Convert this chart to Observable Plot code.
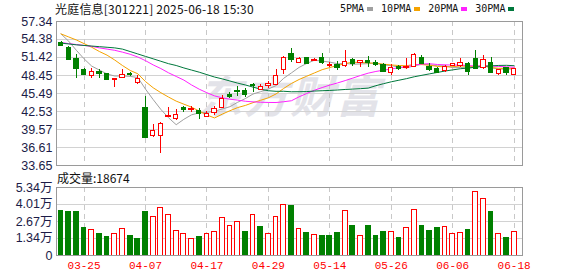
<!DOCTYPE html>
<html><head><meta charset="utf-8">
<script src="https://cdn.jsdelivr.net/npm/d3@7"></script>
<script src="https://cdn.jsdelivr.net/npm/@observablehq/plot@0.6"></script>
<style>
body{margin:0;background:#fff;}
#wrap{position:relative;width:578px;height:276px;overflow:hidden;background:#fff;}
.abs{position:absolute;white-space:nowrap;}
#wrap svg{position:absolute;left:0;}
</style></head><body><div id="wrap"></div>
<script>
// ---- data ----
const title = "光庭信息[301221] 2025-06-18 15:30";
const dates = ["03-20","03-21","03-24","03-25","03-26","03-27","03-28","03-31","04-01","04-02","04-03","04-07","04-08","04-09","04-10","04-11","04-14","04-15","04-16","04-17","04-18","04-21","04-22","04-23","04-24","04-25","04-28","04-29","04-30","05-06","05-07","05-08","05-09","05-12","05-13","05-14","05-15","05-16","05-19","05-20","05-21","05-22","05-23","05-26","05-27","05-28","05-29","05-30","06-03","06-04","06-05","06-06","06-09","06-10","06-11","06-12","06-13","06-16","06-17","06-18"];
const open  = [53.84,52.95,51.09,49.28,48.41,49.0,48.67,47.64,48.08,48.75,47.19,43.03,38.54,38.54,41.6,41.27,43.08,42.7,42.6,41.67,42.3,43.08,45.3,45.85,45.83,46.93,46.1,46.8,46.93,49.28,52.03,50.55,51.26,50.82,51.3,50.1,50.2,49.94,50.93,50.48,50.8,50.55,50.22,48.84,49.8,49.7,49.83,51.31,49.83,49.45,49.12,49.94,49.94,50.38,51.09,49.72,50.54,48.73,49.67,48.57];
const high  = [54.0,53.25,51.9,49.6,49.56,49.4,48.8,48.0,49.4,49.0,48.5,45.0,40.35,40.8,43.25,42.92,43.3,43.3,43.0,42.5,43.3,45.2,45.6,46.7,46.3,47.1,47.0,47.5,49.4,51.5,52.85,51.4,51.3,51.2,52.0,50.6,50.7,52.57,51.2,50.8,51.6,51.0,50.4,50.3,50.1,51.2,52.0,51.75,50.38,49.7,50.1,50.4,51.2,50.65,52.57,51.75,51.47,49.4,49.83,49.56];
const low   = [53.3,50.9,48.0,48.45,48.02,48.0,47.7,46.53,48.0,48.3,47.0,38.24,38.3,35.68,41.5,41.0,42.4,42.35,41.17,41.6,41.9,43.0,44.6,44.95,44.8,45.66,46.0,46.35,46.8,48.6,50.6,50.5,50.2,50.8,50.2,49.7,49.3,49.7,50.0,49.8,49.8,50.0,48.95,48.4,49.3,49.4,49.8,50.2,49.17,48.73,49.0,49.9,49.83,48.46,49.45,49.45,48.73,48.46,48.46,48.57];
const close = [53.34,50.98,49.5,48.57,48.95,48.74,47.75,47.85,48.62,48.6,47.8,38.24,39.25,40.51,41.75,42.03,42.7,42.97,42.12,42.18,42.9,44.56,44.9,45.7,45.23,46.65,46.54,47.1,48.41,51.3,51.04,51.09,50.38,51.04,50.55,50.25,49.73,50.65,50.38,50.76,50.55,50.2,49.1,49.73,49.6,49.9,51.91,50.38,49.28,48.84,49.83,50.38,50.49,49.0,49.45,50.93,48.9,49.39,48.9,49.56];
const volume = [3.53,3.45,3.45,2.14,2.04,1.65,1.44,1.65,2.09,1.52,1.26,3.38,3.06,3.74,3.19,1.94,1.70,1.31,1.44,1.70,1.88,2.93,2.28,2.67,1.88,3.19,2.20,1.70,3.06,3.93,3.85,2.09,1.73,1.62,1.57,1.57,1.73,3.51,2.28,1.57,2.28,1.57,1.88,1.86,1.41,2.17,3.59,2.28,1.94,2.14,2.25,1.70,1.78,2.04,5.00,4.45,3.38,1.70,1.41,1.8674]; // 万
const ma5  = [55.3,54.1,52.6,51.2,50.0,49.35,48.7,48.37,48.38,48.31,48.12,46.22,44.5,42.88,41.51,40.36,41.25,41.99,42.31,42.4,42.57,42.95,43.33,44.05,44.66,45.41,45.8,46.24,46.79,48.0,48.88,49.79,50.44,50.97,50.82,50.66,50.39,50.44,50.31,50.35,50.41,50.51,50.2,50.07,49.84,49.71,50.05,50.3,50.21,50.06,50.05,49.74,49.76,49.71,49.83,50.05,49.75,49.53,49.51,49.54];
const ma10 = [55.3,54.8,54.3,53.7,53.1,52.4,51.8,51.0,50.1,49.29,48.74,47.46,46.44,45.63,44.91,44.24,43.74,43.25,42.6,41.96,41.47,42.1,42.66,43.18,43.53,43.99,44.38,44.79,45.42,46.33,47.14,47.8,48.34,48.88,49.41,49.77,50.09,50.44,50.64,50.59,50.54,50.45,50.32,50.19,50.1,50.06,50.28,50.25,50.14,49.95,49.88,49.9,50.03,49.96,49.95,50.05,49.75,49.65,49.61,49.68];
const ma20 = [53.9,53.7,53.55,53.4,53.25,53.0,52.8,52.6,52.3,51.95,51.5,50.9,50.2,49.6,48.9,48.3,47.7,46.9,46.2,45.62,45.1,44.78,44.55,44.41,44.22,44.12,44.06,44.02,44.01,44.14,44.3,44.95,45.5,46.03,46.47,46.88,47.23,47.62,48.03,48.46,48.84,49.12,49.33,49.53,49.75,49.92,50.18,50.35,50.39,50.27,50.21,50.17,50.18,50.08,50.02,50.05,50.01,49.95,49.88,49.82];
const ma30 = [53.78,53.65,53.5,53.4,53.3,53.2,53.1,53.0,52.8,52.4,52.0,51.6,51.2,50.8,50.4,50.1,49.7,49.35,49.0,48.6,48.2,47.9,47.55,47.2,46.9,46.55,46.2,45.95,45.85,45.86,45.78,45.79,45.81,45.9,45.95,46.0,46.07,46.16,46.22,46.29,46.38,46.78,47.11,47.42,47.68,47.94,48.25,48.49,48.73,48.96,49.19,49.38,49.57,49.68,49.82,49.96,50.04,50.11,50.13,50.07];
const maNames  = ["5PMA","10PMA","20PMA","30PMA"];
const maColors = ["#a0a0a0","#f5a300","#ff22ff","#00783c"];
const priceTicks = [57.34,54.38,51.42,48.45,45.49,42.53,39.57,36.61,33.65];
const volTicks = [0,1.34,2.67,4.01,5.34];
const dateTicks = ["03-25","04-07","04-17","04-29","05-14","05-26","06-06","06-18"];
const volLabel = "成交量";

// ---- build ----
const RED = "#ff0000", GREEN = "#008000";
const rows = dates.map((d, i) => ({
  i, date: d, open: open[i], high: high[i], low: low[i], close: close[i], vol: volume[i],
  up: close[i] >= open[i],
  volUp: i > 0 && close[i] >= close[i - 1],
  ma: [ma5[i], ma10[i], ma20[i], ma30[i]]
}));
const maRows = maNames.flatMap((name, k) => rows.map(r => ({i: r.i, v: r.ma[k], name, color: maColors[k]})));
const tickIdx = dateTicks.map(d => dates.indexOf(d));
const xDomain = [-0.586, 60.091];
const W = 578;
const axisFont = "Liberation Sans, Noto Sans CJK SC, sans-serif";
const half = 0.28;

const wrap = document.getElementById("wrap");

// watermark (decorative)
const wm = document.createElement("div");
wm.className = "abs";
wm.style.cssText = "left:198px;top:62px;font:italic 700 44px 'Noto Sans CJK SC';color:#e3e3e9;letter-spacing:2px;";
wm.textContent = "东方财富";
wrap.appendChild(wm);

const price = Plot.plot({
  width: W, height: 168, marginLeft: 56, marginRight: 56, marginTop: 21, marginBottom: 3,
  x: {type: "linear", domain: xDomain, axis: null},
  y: {domain: [33.65, 57.34], axis: null},
  color: {type: "identity"},
  style: {background: "transparent", fontFamily: axisFont, fontSize: "12.5px", overflow: "visible"},
  marks: [
    Plot.ruleY(priceTicks.slice(1, -1), {stroke: "#d2d2d2", shapeRendering: "crispEdges"}),
    Plot.ruleX(tickIdx, {stroke: "#c8c8c8", strokeDasharray: "5,4", shapeRendering: "crispEdges"}),
    Plot.line(maRows, {x: "i", y: "v", z: "name", stroke: "color", strokeWidth: 1}),
    Plot.ruleX(rows, {x: "i", y1: "low", y2: "high", stroke: d => d.up ? RED : GREEN, shapeRendering: "crispEdges"}),
    Plot.rect(rows, {x1: d => d.i - half, x2: d => d.i + half, y1: "open", y2: "close",
      fill: d => d.up ? "#ffffff" : GREEN, stroke: d => d.up ? RED : GREEN, strokeWidth: 1, shapeRendering: "crispEdges"}),
    Plot.axisY(priceTicks, {anchor: "left", tickSize: 0, tickPadding: 4, tickFormat: d => d.toFixed(2),
      fontSize: 12.5, fill: "#1c1c48", label: null}),
    Plot.frame({stroke: "#9a9a9a", shapeRendering: "crispEdges"})
  ]
});
price.style.top = "0px";
wrap.appendChild(price);

const vol = Plot.plot({
  width: W, height: 106, marginLeft: 56, marginRight: 56, marginTop: 17, marginBottom: 21,
  x: {type: "linear", domain: xDomain, axis: null},
  y: {domain: [0, 5.34], axis: null},
  color: {type: "identity"},
  style: {background: "transparent", fontFamily: axisFont, fontSize: "12.5px", overflow: "visible"},
  marks: [
    Plot.ruleY(volTicks.slice(1, -1), {stroke: "#d2d2d2", shapeRendering: "crispEdges"}),
    Plot.ruleX(tickIdx, {stroke: "#c8c8c8", strokeDasharray: "5,4", shapeRendering: "crispEdges"}),
    Plot.rect(rows, {x1: d => d.i - 0.31, x2: d => d.i + 0.31, y1: 0, y2: "vol",
      fill: d => d.volUp ? "#ffffff" : GREEN, stroke: d => d.volUp ? RED : GREEN, strokeWidth: 1, shapeRendering: "crispEdges"}),
    Plot.axisY(volTicks, {anchor: "left", tickSize: 0, tickPadding: 4,
      tickFormat: d => d === 0 ? "0" : d.toFixed(2) + "万", fontSize: 12.5, fill: "#1c1c48", label: null}),
    Plot.axisX(tickIdx, {anchor: "bottom", tickSize: 0, tickPadding: 6, tickFormat: i => dates[i],
      fill: RED, fontSize: 11, fontFamily: "Liberation Mono, DejaVu Sans Mono, monospace", label: null}),
    Plot.frame({stroke: "#9a9a9a", shapeRendering: "crispEdges"})
  ]
});
vol.style.top = "170px";
wrap.appendChild(vol);

// title
const t = document.createElement("div");
t.className = "abs";
t.style.cssText = "left:55px;top:0px;font:12px 'Noto Sans CJK SC';color:#111;line-height:18px;letter-spacing:0.2px;";
t.textContent = title;
wrap.appendChild(t);

// legend
const lg = document.createElement("div");
lg.className = "abs";
lg.style.cssText = "left:340px;top:2px;display:flex;align-items:center;font:10px 'DejaVu Sans Mono',monospace;color:#111;line-height:14px;";
maNames.forEach((n, k) => {
  const s = document.createElement("span"); s.textContent = n; lg.appendChild(s);
  const b = document.createElement("span");
  b.style.cssText = `display:inline-block;width:6px;height:4px;background:${maColors[k]};margin:0 8px 0 3px;`;
  lg.appendChild(b);
});
wrap.appendChild(lg);

// volume label
const vl = document.createElement("div");
vl.className = "abs";
vl.style.cssText = "left:57px;top:170px;font:12px 'Noto Sans CJK SC';color:#111;line-height:16px;";
vl.textContent = volLabel + ":" + Math.round(volume[volume.length - 1] * 10000);
wrap.appendChild(vl);
</script></body></html>
